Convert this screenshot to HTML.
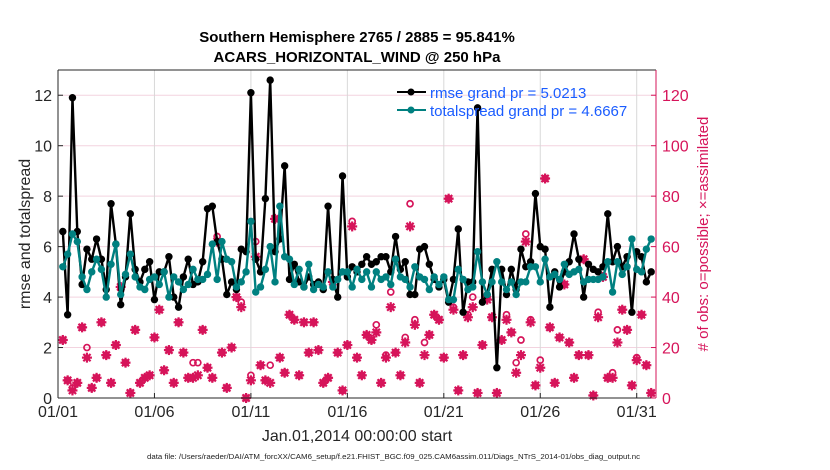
<!DOCTYPE html>
<html><head><meta charset="utf-8"><style>
body{margin:0;background:#fff}
svg{display:block;font-family:"Liberation Sans",Arial,sans-serif}
</style></head><body>
<svg id="chart" width="830" height="470" viewBox="0 0 830 470">
<g id="grid"></g>
<g id="marks"></g>
<g id="axes"></g>
<text x="357" y="42" text-anchor="middle" font-size="15" font-weight="bold">Southern Hemisphere 2765 / 2885 = 95.841%</text>
<text x="357" y="62" text-anchor="middle" font-size="15" font-weight="bold">ACARS_HORIZONTAL_WIND @ 250 hPa</text>
<text x="357" y="441" text-anchor="middle" font-size="16" fill="#262626">Jan.01,2014 00:00:00 start</text>
<text transform="translate(30,234) rotate(-90)" text-anchor="middle" font-size="16" fill="#262626">rmse and totalspread</text>
<text transform="translate(708,234) rotate(-90)" text-anchor="middle" font-size="15" fill="#d6145a"># of obs: o=possible; ×=assimilated</text>
<text x="147" y="459" font-size="7" fill="#222" textLength="493" lengthAdjust="spacingAndGlyphs">data file: /Users/raeder/DAI/ATM_forcXX/CAM6_setup/f.e21.FHIST_BGC.f09_025.CAM6assim.011/Diags_NTrS_2014-01/obs_diag_output.nc</text>
<g>
<g>
<line x1="397" y1="92" x2="426" y2="92" stroke="#000" stroke-width="2"/><circle cx="411" cy="92" r="3.5" fill="#000"/>
<text x="430" y="98" font-size="15" fill="#1a5cff">rmse grand pr = 5.0213</text></g>
<g>
<line x1="397" y1="110" x2="426" y2="110" stroke="#008080" stroke-width="2"/><circle cx="411" cy="110" r="3.5" fill="#008080"/>
<text x="430" y="116" font-size="15" fill="#1a5cff">totalspread grand pr = 4.6667</text></g>
</g>
</svg>
<script>
const xTickLabels=["01/01","01/06","01/11","01/16","01/21","01/26","01/31"];
const xTickDays=[0,5,10,15,20,25,30];
const yTicks=[0,2,4,6,8,10,12];
const yRightTicks=[0,20,40,60,80,100,120];
const rmse=[6.6,3.3,11.9,6.6,4.5,5.9,5.5,6.3,5.5,4.3,7.7,6.1,3.7,4.8,7.3,5.1,4.6,5.1,5.4,3.9,5.0,5.0,5.6,4.0,3.6,4.8,5.5,4.5,4.6,5.4,7.5,7.6,6.2,5.5,4.1,4.6,4.3,5.9,5.8,12.1,
5.5,5.0,7.9,12.6,5.8,6.3,9.2,4.7,5.3,4.6,4.4,4.8,4.5,4.6,4.3,7.6,4.7,4.0,8.8,4.8,5.2,5.0,5.3,5.6,5.3,5.4,5.6,5.6,5.0,6.4,5.1,5.4,4.1,4.1,5.9,6.0,5.3,4.7,4.4,4.7,3.8,4.7,6.7,
3.4,4.6,4.6,11.5,3.8,4.1,5.1,1.2,5.1,4.1,5.1,4.3,5.9,5.2,5.4,8.1,6.0,5.9,3.6,5.0,4.4,5.0,5.4,6.5,5.5,4.0,5.3,5.1,5.0,5.2,7.3,5.4,6.0,5.2,5.6,3.4,5.8,5.6,4.6,5.0];
const spread=[5.2,5.7,6.5,6.2,4.8,4.3,5.0,5.5,5.1,4.0,5.3,6.1,4.1,4.9,5.7,4.8,4.4,4.3,4.7,4.8,4.5,5.0,4.0,4.8,4.6,4.3,4.5,5.1,4.7,4.7,4.9,6.1,4.7,6.2,5.5,5.4,4.4,4.6,5.0,7.0,
4.2,4.4,5.1,6.0,4.6,7.6,5.6,5.5,4.5,5.1,4.4,5.3,4.3,4.5,4.4,5.0,4.4,4.7,5.0,5.0,4.4,5.1,4.7,5.0,4.4,5.0,4.7,4.8,4.5,5.5,4.8,4.7,4.4,5.2,4.8,4.7,4.3,4.8,4.5,4.8,3.9,3.9,5.1,
4.7,4.3,4.4,5.8,4.6,4.1,4.6,5.4,4.6,4.3,4.6,4.1,4.6,4.6,5.2,5.2,4.6,5.5,4.8,4.9,4.7,5.3,4.9,5.0,5.1,4.6,4.7,4.7,4.7,4.8,5.4,4.2,5.4,4.9,5.2,6.3,5.1,5.0,5.9,6.3];
const obsAssim=[23,7,3,6,28,16,4,8,30,17,6,21,44,14,2,27,6,8,9,24,35,11,19,6,30,18,8,8,9,27,12,8,62,18,4,20,40,36,0,7,
56,13,7,6,71,16,10,33,31,9,30,18,30,19,6,8,46,18,3,21,68,16,9,25,23,26,6,16,36,18,9,22,68,29,6,17,25,33,31,16,79,35,3,
17,32,36,2,21,39,32,2,23,31,26,10,17,62,30,5,12,87,28,6,24,45,22,8,17,55,17,1,32,48,8,8,22,35,27,5,15,33,13,2];
const obsPoss=[23,7,4,6,28,20,4,8,30,17,6,21,44,14,2,27,6,8,9,24,35,11,19,6,30,18,8,14,14,27,12,8,64,18,4,20,40,38,0,9,
62,13,7,13,71,16,10,33,31,9,30,18,30,19,6,8,46,18,3,21,70,16,9,25,23,29,6,17,42,18,9,24,77,31,6,22,25,33,31,16,79,36,3,
17,33,40,2,21,40,32,2,23,33,26,14,23,65,31,5,15,87,28,6,24,45,22,8,17,55,17,1,34,48,8,10,27,35,27,5,16,33,13,2];

const NS='http://www.w3.org/2000/svg';
const X0=58,X1=656,Y0=398,Y1=70,XMAX=31.0,YMAX=13;
const xs=d=>X0+(d/XMAX)*(X1-X0);
const ys=v=>Y0-(v/YMAX)*(Y0-Y1);
const yr=c=>ys(c/10);
const tOf=i=>(i+1)*0.25;
function mk(tag,attrs,parent){const e=document.createElementNS(NS,tag);for(const k in attrs)e.setAttribute(k,attrs[k]);parent.appendChild(e);return e;}
const grid=document.getElementById('grid'),marks=document.getElementById('marks'),axes=document.getElementById('axes');
const MAG='#d6145a';
yTicks.forEach(v=>{const l=mk('line',{x1:X0,x2:X1,y1:ys(v),y2:ys(v),stroke:'#f3d3df','stroke-width':1},grid);

});
xTickDays.forEach(d=>{const l=mk('line',{x1:xs(d),x2:xs(d),y1:Y1,y2:Y0,stroke:'#d8d8d8','stroke-width':1},grid);

});
obsAssim.forEach((c,i)=>{const cx=xs(tOf(i)),cy=yr(c);
const g=mk('g',{stroke:MAG,'stroke-width':2.2},marks);


[[0,5],[5,0],[3.6,3.6],[3.6,-3.6]].forEach(([a,b])=>mk('line',{x1:cx-a,y1:cy-b,x2:cx+a,y2:cy+b},g));
mk('circle',{cx:cx,cy:cy,r:3.2,fill:MAG,stroke:'none'},g);});
obsPoss.forEach((c,i)=>{const cx=xs(tOf(i)),cy=yr(c);
const e=mk('circle',{cx:cx,cy:cy,r:3,fill:'none',stroke:MAG,'stroke-width':1.7},marks);

});
function series(arr,color,name){
const p=mk('polyline',{points:arr.map((v,i)=>xs(tOf(i))+','+ys(v)).join(' '),fill:'none',stroke:color,'stroke-width':2.4,'stroke-linejoin':'round'},marks);


arr.forEach((v,i)=>{const c=mk('circle',{cx:xs(tOf(i)),cy:ys(v),r:3.7,fill:color},marks);

});}
series(rmse,'#000','rmse');
series(spread,'#008080','totalspread');
mk('line',{x1:X0,y1:Y1,x2:X0,y2:Y0,stroke:'#262626','stroke-width':1},axes);
mk('line',{x1:X0,y1:Y0,x2:X1,y2:Y0,stroke:'#262626','stroke-width':1},axes);
mk('line',{x1:X0,y1:Y1,x2:X1,y2:Y1,stroke:'#262626','stroke-width':1},axes);
mk('line',{x1:X1,y1:Y1,x2:X1,y2:Y0,stroke:MAG,'stroke-width':1},axes);
yTicks.forEach(v=>{mk('line',{x1:X0,x2:X0+5,y1:ys(v),y2:ys(v),stroke:'#262626'},axes);
const t=mk('text',{x:X0-6,y:ys(v)+6,'text-anchor':'end','font-size':16,fill:'#262626'},axes);t.textContent=v;

});
yRightTicks.forEach(c=>{mk('line',{x1:X1-5,x2:X1,y1:yr(c),y2:yr(c),stroke:MAG},axes);
const t=mk('text',{x:X1+6,y:yr(c)+6,'font-size':16,fill:MAG},axes);t.textContent=c;

});
xTickDays.forEach((d,i)=>{mk('line',{x1:xs(d),x2:xs(d),y1:Y0,y2:Y0-5,stroke:'#262626'},axes);
const t=mk('text',{x:xs(d),y:417,'text-anchor':'middle','font-size':16,fill:'#262626'},axes);t.textContent=xTickLabels[i];

});
</script>
</body></html>
